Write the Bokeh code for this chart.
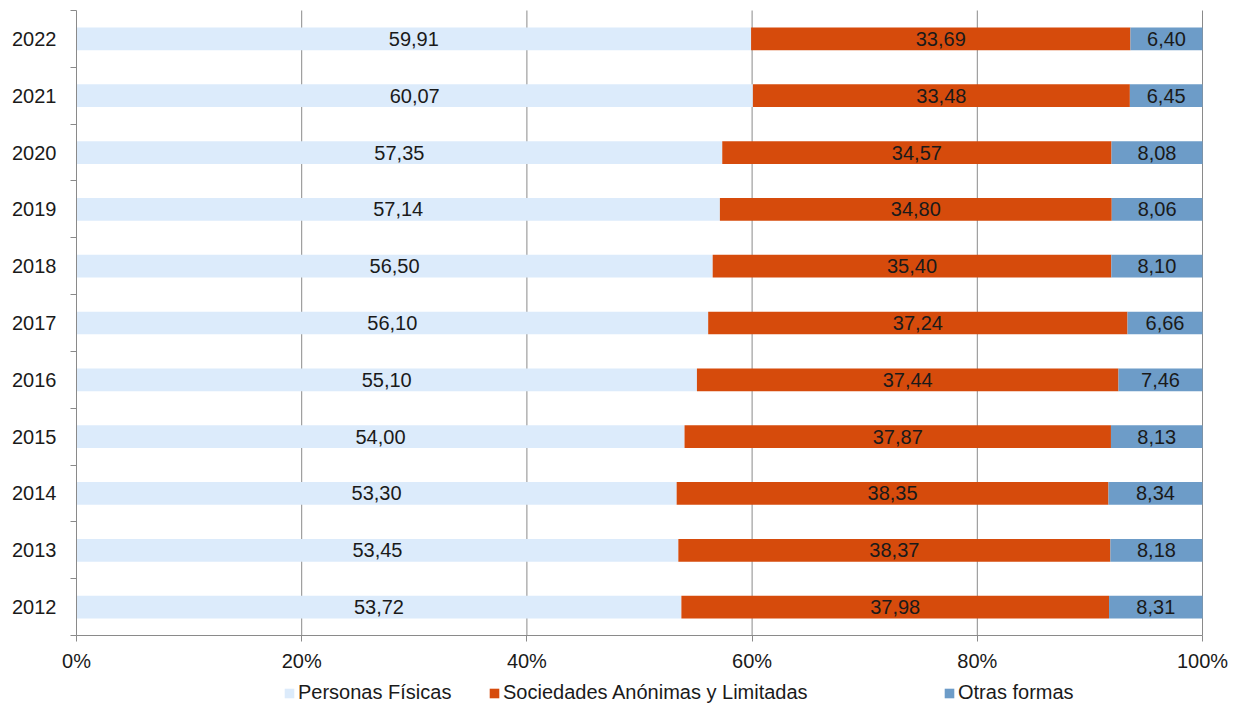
from bokeh.plotting import figure
from bokeh.models import ColumnDataSource, FixedTicker, Legend, LegendItem, Range1d
from bokeh.embed import file_html
from bokeh.resources import INLINE
from bokeh.core.properties import value

years = ["2012", "2013", "2014", "2015", "2016", "2017", "2018", "2019", "2020", "2021", "2022"]
personas_fisicas = [53.72, 53.45, 53.30, 54.00, 55.10, 56.10, 56.50, 57.14, 57.35, 60.07, 59.91]
sociedades = [37.98, 38.37, 38.35, 37.87, 37.44, 37.24, 35.40, 34.80, 34.57, 33.48, 33.69]
otras = [8.31, 8.18, 8.34, 8.13, 7.46, 6.66, 8.10, 8.06, 8.08, 6.45, 6.40]
series_names = ["Personas Físicas", "Sociedades Anónimas y Limitadas", "Otras formas"]
colors = ["#DCEBFB", "#D64B0C", "#6D9CC8"]
x_ticks = [0, 20, 40, 60, 80, 100]

FONT = "Liberation Sans"
FS = "20px"
GRAY = "#8a8a8a"

# canvas and plot-area placement (pixels)
W, H = 1230, 704
PX_LEFT, PX_RIGHT = 76, 1202   # x = 0% and 100%
PX_TOP, PX_BOTTOM = 10, 635    # top and bottom of the category area
n = len(years)
ppx = (PX_RIGHT - PX_LEFT) / 100.0
ppy = (PX_BOTTOM - PX_TOP) / n
x_range = Range1d(-PX_LEFT / ppx, 100 + (W - PX_RIGHT) / ppx)
y_range = Range1d(-(H - PX_BOTTOM) / ppy, n + PX_TOP / ppy)

ypos = [i + 0.5 for i in range(n)]
src = ColumnDataSource(dict(y=ypos, pf=personas_fisicas, sa=sociedades, ot=otras))

p = figure(width=W, height=H, output_backend="svg", toolbar_location=None,
           x_range=x_range, y_range=y_range,
           min_border_left=0, min_border_right=0, min_border_top=0, min_border_bottom=0)
p.outline_line_color = None
p.background_fill_color = "white"
p.xgrid.grid_line_color = None
p.ygrid.grid_line_color = None

# vertical gridlines (only over the category area)
gsrc = ColumnDataSource(dict(x=x_ticks[1:], y0=[0] * (len(x_ticks) - 1), y1=[n] * (len(x_ticks) - 1)))
p.segment(x0="x", y0="y0", x1="x", y1="y1", source=gsrc, line_color=GRAY, line_width=1)

renderers = p.hbar_stack(["pf", "sa", "ot"], y="y", height=0.4, color=colors, source=src,
                         line_color=None)

# labels
label_x, label_y, label_t = [], [], []
for i in range(n):
    vals = [personas_fisicas[i], sociedades[i], otras[i]]
    left = 0.0
    for v in vals:
        label_x.append(left + v / 2)
        label_y.append(ypos[i])
        label_t.append(f"{v:.2f}".replace(".", ","))
        left += v
lsrc = ColumnDataSource(dict(x=label_x, y=label_y, t=label_t))
p.text(x="x", y="y", text="t", source=lsrc, text_align="center", text_baseline="middle",
       text_font=value(FONT), text_font_size=FS, text_color="#1a1a1a")

# x axis, fixed at y=0 inside the frame
p.xaxis.fixed_location = 0
p.xaxis.bounds = (0, 100)
p.xaxis.ticker = FixedTicker(ticks=x_ticks)
p.xaxis.major_label_overrides = {t: f"{t}%" for t in x_ticks}
p.xaxis.major_label_text_font = FONT
p.xaxis.major_label_text_font_size = FS
p.xaxis.major_label_text_color = "#1a1a1a"
p.xaxis.axis_line_color = GRAY
p.xaxis.major_tick_line_color = GRAY
p.xaxis.major_tick_in = 0
p.xaxis.major_tick_out = 6
p.xaxis.minor_tick_line_color = None
p.xaxis.major_label_standoff = 8

# y axis fixed at x=0: labels at centers, ticks at boundaries
p.yaxis.fixed_location = 0
p.yaxis.bounds = (0, n)
p.yaxis.ticker = FixedTicker(ticks=ypos, minor_ticks=list(range(n + 1)))
p.yaxis.major_label_overrides = {y: yr for y, yr in zip(ypos, years)}
p.yaxis.major_label_text_font = FONT
p.yaxis.major_label_text_font_size = FS
p.yaxis.major_label_text_color = "#1a1a1a"
p.yaxis.axis_line_color = GRAY
p.yaxis.major_tick_line_color = None
p.yaxis.major_tick_in = 0
p.yaxis.major_tick_out = 0
p.yaxis.minor_tick_line_color = GRAY
p.yaxis.minor_tick_in = 0
p.yaxis.minor_tick_out = 6
p.yaxis.major_label_standoff = 14

leg_px = [283, 488, 943]
for name, r, lx in zip(series_names, renderers, leg_px):
    lg = Legend(items=[LegendItem(label=name, renderers=[r])], location=(lx, 0),
                orientation="horizontal", padding=0, margin=0, border_line_color=None,
                background_fill_alpha=0, glyph_width=12, glyph_height=12, label_standoff=3,
                label_text_font=FONT, label_text_font_size=FS, label_text_color="#1a1a1a",
                label_height=20)
    p.add_layout(lg)

open("out.html", "w").write(file_html(p, INLINE))
